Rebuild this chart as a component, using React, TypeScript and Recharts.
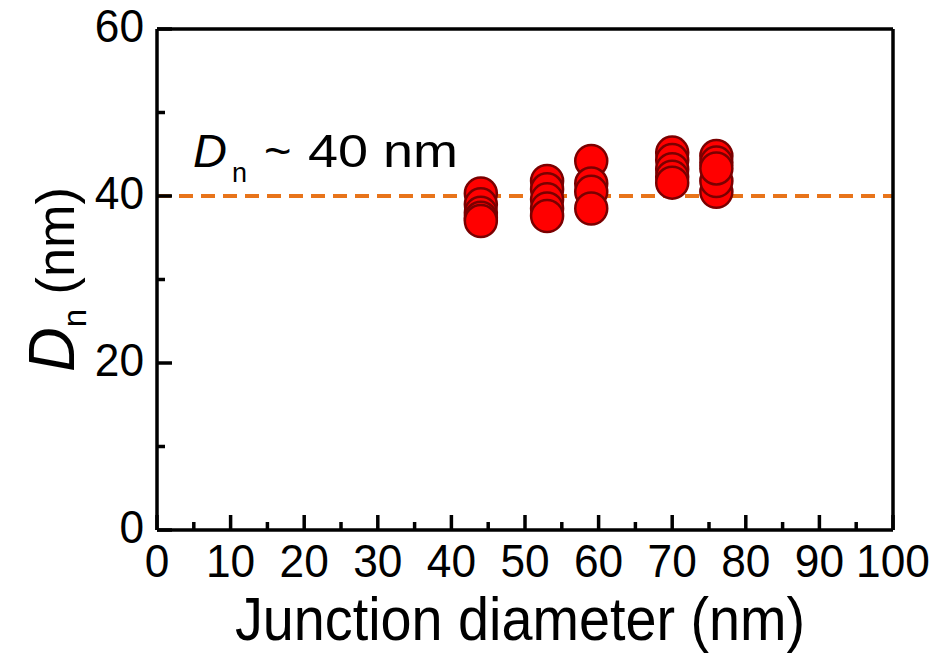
import React from 'react';
import {
  ScatterChart,
  Scatter,
  XAxis,
  YAxis,
  ReferenceLine,
} from 'recharts';

// junction diameters (nm) and the measured Dn values at each one
const diameters = [44, 53, 59, 70, 76];
const dnAt44 = [40.3, 39.0, 38.0, 37.4, 37.0];
const dnAt53 = [41.8, 40.8, 39.6, 38.5, 37.6];
const dnAt59 = [44.2, 41.5, 40.5, 38.5];
const dnAt70 = [45.2, 44.3, 43.2, 42.3, 41.6];
const dnAt76 = [44.8, 44.0, 40.5, 41.8, 43.3];
const dnGroups = [dnAt44, dnAt53, dnAt59, dnAt70, dnAt76];

const xTicks = [0, 5, 10, 15, 20, 25, 30, 35, 40, 45, 50, 55, 60, 65, 70, 75, 80, 85, 90, 95, 100];
const yTicks = [0, 10, 20, 30, 40, 50, 60];
const dnLevel = 40;

const points = diameters.flatMap((d, i) => dnGroups[i].map((dn) => ({ d, dn })));

const FONT = '"Liberation Sans", Arial, sans-serif';
const W = 943;
const H = 653;
const LW = 3.5;

const tickLen = (v: number, step: number) => (v % step === 0 ? 15 : 8);

const BottomTick = (props: any) => {
  const { x, y, payload } = props;
  const major = payload.value % 10 === 0;
  const label = String(payload.value);
  return (
    <g>
      <line x1={x} y1={y} x2={x} y2={y - tickLen(payload.value, 10)} stroke="#000" strokeWidth={LW} />
      {major && (
        <text
          x={x - label.length * 12.3}
          y={y + 47}
          fontSize={46}
          fontFamily={FONT}
          fill="#000"
          textLength={label.length * 24.6}
          lengthAdjust="spacingAndGlyphs"
        >
          {label}
        </text>
      )}
    </g>
  );
};

const TopTick = (props: any) => {
  const { x, y, payload } = props;
  return <line x1={x} y1={y} x2={x} y2={y + tickLen(payload.value, 10)} stroke="#000" strokeWidth={LW} />;
};

const LeftTick = (props: any) => {
  const { x, y, payload } = props;
  const major = payload.value % 20 === 0;
  const label = String(payload.value);
  return (
    <g>
      <line x1={x} y1={y} x2={x + tickLen(payload.value, 20)} y2={y} stroke="#000" strokeWidth={LW} />
      {major && (
        <text
          x={x - 13 - label.length * 24.6}
          y={y + 13}
          fontSize={46}
          fontFamily={FONT}
          fill="#000"
          textLength={label.length * 24.6}
          lengthAdjust="spacingAndGlyphs"
        >
          {label}
        </text>
      )}
    </g>
  );
};

const RightTick = (props: any) => {
  const { x, y, payload } = props;
  return <line x1={x} y1={y} x2={x - tickLen(payload.value, 20)} y2={y} stroke="#000" strokeWidth={LW} />;
};

const Dot = (props: any) => {
  const { cx, cy } = props;
  return <circle cx={cx} cy={cy} r={16} fill="#FF0000" stroke="#7A0000" strokeWidth={2.5} />;
};

const axisLine = { stroke: '#000', strokeWidth: LW };

export default function App() {
  return (
    <div style={{ position: 'absolute', left: 0, top: 0, width: W, height: H, background: '#fff' }}>
      <ScatterChart width={W} height={H} margin={{ top: 28, right: 49, bottom: 122, left: 156 }}>
        <XAxis
          type="number"
          dataKey="d"
          domain={[0, 100]}
          ticks={xTicks}
          interval={0}
          height={1}
          tickSize={0}
          tickMargin={0}
          tickLine={false}
          axisLine={axisLine}
          tick={BottomTick}
        />
        <XAxis
          xAxisId="top"
          orientation="top"
          type="number"
          dataKey="d"
          domain={[0, 100]}
          ticks={xTicks}
          interval={0}
          height={1}
          tickSize={0}
          tickMargin={0}
          tickLine={false}
          axisLine={axisLine}
          tick={TopTick}
        />
        <YAxis
          type="number"
          dataKey="dn"
          domain={[0, 60]}
          ticks={yTicks}
          interval={0}
          width={1}
          tickSize={0}
          tickMargin={0}
          tickLine={false}
          axisLine={axisLine}
          tick={LeftTick}
        />
        <YAxis
          yAxisId="right"
          orientation="right"
          type="number"
          dataKey="dn"
          domain={[0, 60]}
          ticks={yTicks}
          interval={0}
          width={1}
          tickSize={0}
          tickMargin={0}
          tickLine={false}
          axisLine={axisLine}
          tick={RightTick}
        />
        <ReferenceLine y={dnLevel} stroke="#E8741A" strokeWidth={4} strokeDasharray="14 8" />
        <Scatter data={points} shape={Dot} isAnimationActive={false} />
      </ScatterChart>
      <svg
        width={W}
        height={H}
        style={{ position: 'absolute', left: 0, top: 0, pointerEvents: 'none' }}
        fontFamily={FONT}
      >
        <text x={193} y={167} fontSize={47} fontStyle="italic" fill="#000">D</text>
        <text x={232} y={182} fontSize={27} fill="#000">n</text>
        <text x={264} y={167} fontSize={47} fill="#000">~</text>
        <text x={308} y={167} fontSize={47} fill="#000" textLength={150} lengthAdjust="spacingAndGlyphs">
          40 nm
        </text>
        <text
          x={235}
          y={640}
          fontSize={62}
          fill="#000"
          textLength={570}
          lengthAdjust="spacingAndGlyphs"
        >
          Junction diameter (nm)
        </text>
        <g transform="translate(74 372) rotate(-90)">
          <text x={0} y={0} fontSize={54} fill="#000" textLength={185} lengthAdjust="spacingAndGlyphs">
            <tspan fontStyle="italic" fontSize={64}>D</tspan>
            <tspan fontSize={34} dy={12}>n</tspan>
            <tspan dy={-12}> (nm)</tspan>
          </text>
        </g>
      </svg>
    </div>
  );
}
